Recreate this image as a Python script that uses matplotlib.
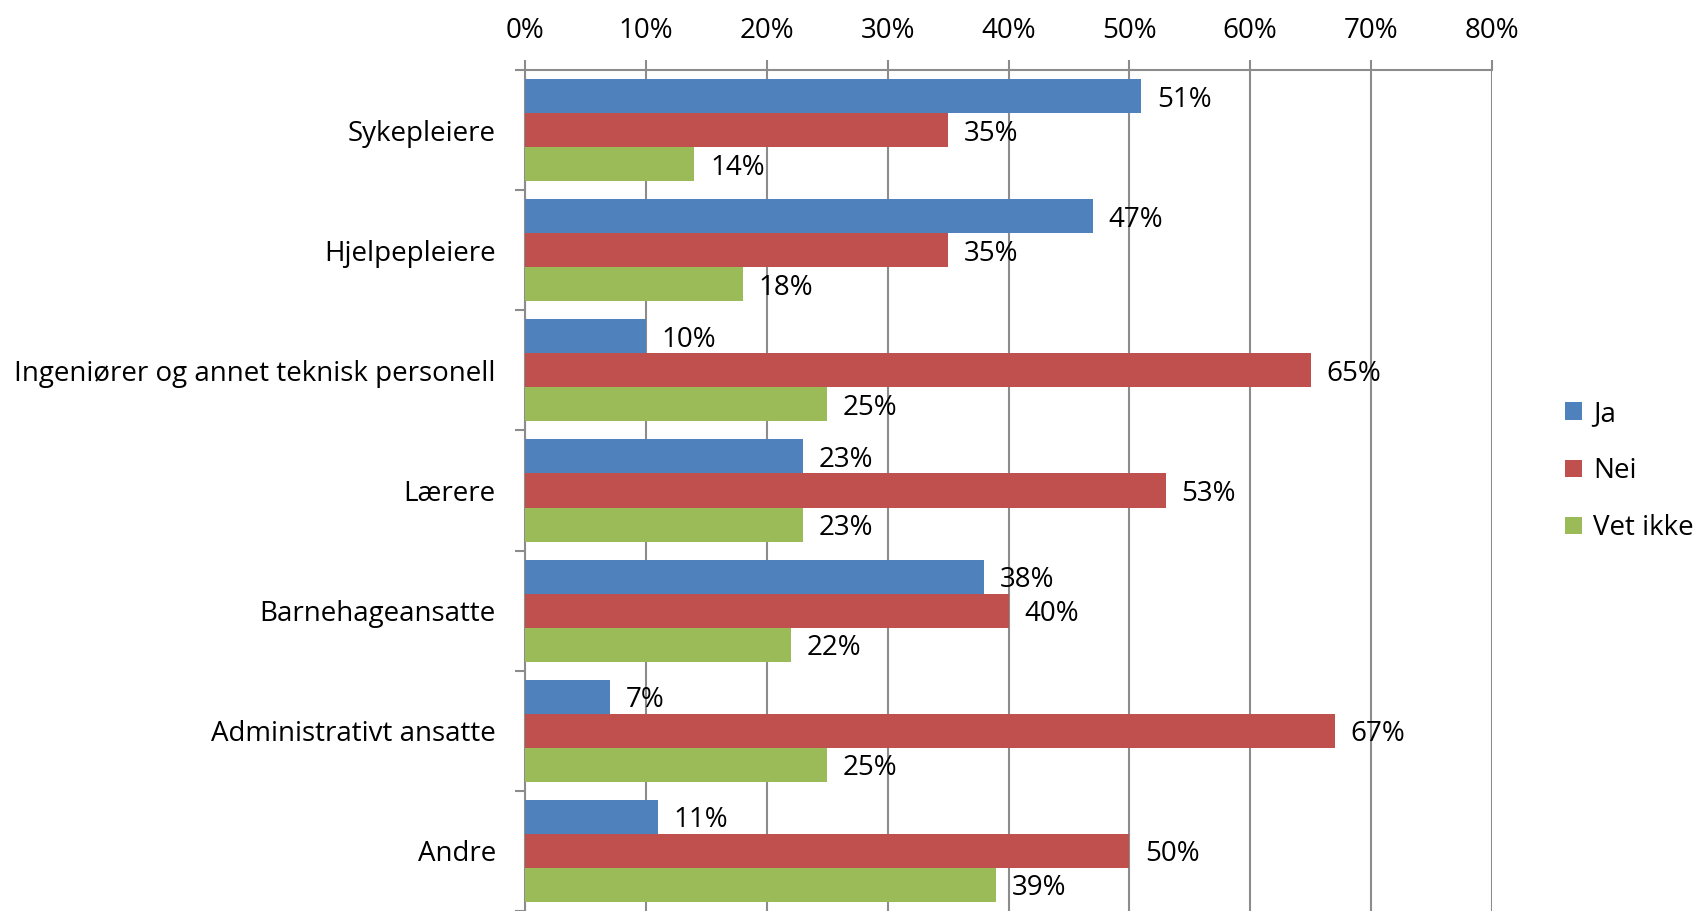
import numpy as np
from matplotlib import pyplot as plt
from matplotlib.ticker import FixedLocator

categories = ['Sykepleiere', 'Hjelpepleiere', 'Ingeniører og annet teknisk personell',
              'Lærere', 'Barnehageansatte', 'Administrativt ansatte', 'Andre']
series = ['Ja', 'Nei', 'Vet ikke']
ja = [51, 47, 10, 23, 38, 7, 11]
nei = [35, 35, 65, 53, 40, 67, 50]
vet_ikke = [14, 18, 25, 23, 22, 25, 39]
colors = ['#4F81BD', '#C0504D', '#9BBB59']

plt.rcParams['font.family'] = ['Open Sans', 'DejaVu Sans']
plt.rcParams['font.size'] = 20

fig = plt.figure(figsize=(16.98, 9.11), dpi=100)
ax = fig.add_axes([525/1698, 0.0, (1492-525)/1698, 1-70/911])

y = np.arange(len(categories))
h = 0.283
grid_c = '#8c8c8c'
for k, (name, vals, c) in enumerate(zip(series, [ja, nei, vet_ikke], colors)):
    yy = y + (k - 1) * h
    ax.barh(yy, vals, height=h, color=c, label=name, zorder=3)
    for yi, v in zip(yy, vals):
        ax.text(v + 1.3, yi, f'{v}%', va='center_baseline', ha='left', zorder=4)

ax.set_xlim(0, 80)
ax.set_ylim(len(categories) - 0.5, -0.5)
ax.xaxis.tick_top()
ax.set_xticks(np.arange(0, 81, 10))
ax.set_xticklabels([f'{v}%' for v in range(0, 81, 10)])
ax.tick_params(axis='x', length=7, width=1.5, color=grid_c, pad=11)

ax.set_yticks(y)
ax.set_yticklabels(categories)
ax.tick_params(axis='y', which='major', length=0, pad=21)
ax.yaxis.set_minor_locator(FixedLocator(np.arange(-0.5, len(categories), 1.0)))
ax.tick_params(axis='y', which='minor', length=7, width=1.5, color=grid_c)

ax.grid(axis='x', color=grid_c, linewidth=1.5, zorder=0)
for s in ['right', 'bottom']:
    ax.spines[s].set_visible(False)
for s in ['top', 'left']:
    ax.spines[s].set_color(grid_c)
    ax.spines[s].set_linewidth(1.5)

ax.legend(loc='center left', bbox_to_anchor=(1.05, 0.523), frameon=False,
          handlelength=0.6, handleheight=0.6, handletextpad=0.4, labelspacing=1.05)

fig.savefig('out.png', dpi=100)
